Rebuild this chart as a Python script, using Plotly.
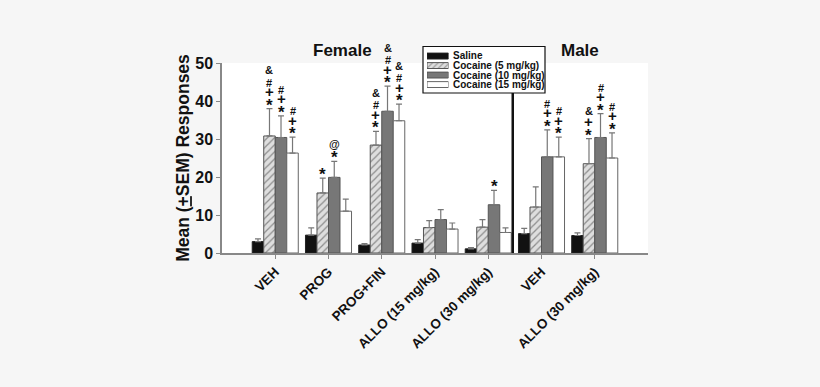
import plotly.graph_objects as go

categories = ["VEH", "PROG", "PROG+FIN", "ALLO (15 mg/kg)", "ALLO (30 mg/kg)", "VEH", "ALLO (30 mg/kg)"]
series_names = ["Saline", "Cocaine (5 mg/kg)", "Cocaine (10 mg/kg)", "Cocaine (15 mg/kg)"]

saline = [3.0, 4.7, 2.1, 2.6, 1.1, 5.1, 4.6]
saline_err = [0.7, 1.9, 0.4, 0.9, 0.3, 1.4, 0.7]
coc5 = [30.8, 15.8, 28.4, 6.7, 6.8, 12.1, 23.5]
coc5_err = [7.2, 3.9, 3.6, 1.8, 2.0, 5.3, 6.6]
coc10 = [30.4, 19.9, 37.3, 8.8, 12.7, 25.3, 30.4]
coc10_err = [5.7, 4.2, 6.6, 2.6, 3.8, 7.1, 6.3]
coc15 = [26.3, 11.0, 34.8, 6.3, 5.4, 25.3, 25.0]
coc15_err = [4.2, 3.2, 4.4, 1.6, 1.2, 5.2, 6.6]

# significance symbols, listed bottom to top
saline_sig = ["", "", "", "", "", "", ""]
coc5_sig = ["*+#&", "*", "*+#&", "", "", "", "*+&"]
coc10_sig = ["*+#", "*@", "*+#&", "", "*", "*+#", "*+#"]
coc15_sig = ["*+#", "", "*+#&", "", "", "*+#", "*+#"]

y_ticks = [0, 10, 20, 30, 40, 50]

values = [saline, coc5, coc10, coc15]
errors = [saline_err, coc5_err, coc10_err, coc15_err]
sigs = [saline_sig, coc5_sig, coc10_sig, coc15_sig]

FONT = "Liberation Sans, Arial, sans-serif"
W, H = 820, 387
ML, MR, MT, MB = 222, 172, 40, 134
plot_h = H - MT - MB
main_top = (253 - 63) / plot_h

def py2paper(py):
    return (253 - py) / plot_h

def px2paper(px):
    return (px - ML) / (W - ML - MR)

bargap = 0.135
nser = len(values)
bw = (1 - bargap) / nser
xs = list(range(len(categories)))

fills = ["#111111", "#dedede", "#777777", "#ffffff"]
patterns = [None, dict(shape="/", fgcolor="#3a3a3a", bgcolor="#dedede", size=5, solidity=0.25), None, None]
lines = ["#222222", "#555555", "#555555", "#666666"]

fig = go.Figure()
for j in range(nser):
    marker = dict(color=fills[j], line=dict(color=lines[j], width=1))
    if patterns[j]:
        marker["pattern"] = patterns[j]
    fig.add_trace(go.Bar(
        x=xs, y=values[j], name=series_names[j], marker=marker,
        error_y=dict(type="data", array=errors[j], arrayminus=[0] * len(xs), symmetric=False,
                     color="#777777", thickness=1.2, width=3),
        showlegend=False, xaxis="x", yaxis="y",
    ))

sym_size = {"*": 17, "+": 15, "#": 11, "&": 11, "@": 11}
sym_base = {"*": -8, "+": -4, "#": -3, "&": -1, "@": -1}
sym_step = 10.5
annotations = []
for j in range(nser):
    for i in xs:
        s = sigs[j][i]
        if not s:
            continue
        xpos = i + (j - (nser - 1) / 2) * bw
        top = values[j][i] + errors[j][i]
        for k, ch in enumerate(s):
            annotations.append(dict(
                x=xpos, y=top, xref="x", yref="y", text="<b>%s</b>" % ch,
                showarrow=False, yanchor="bottom", xanchor="center",
                yshift=sym_base[ch] + k * sym_step,
                font=dict(family=FONT, size=sym_size[ch], color="#111111"),
            ))

# titles
annotations.append(dict(x=px2paper(342), y=py2paper(50), xref="paper", yref="paper", text="<b>Female</b>",
                        showarrow=False, xanchor="center", yanchor="middle",
                        font=dict(family=FONT, size=17, color="#111111")))
annotations.append(dict(x=px2paper(580), y=py2paper(51), xref="paper", yref="paper", text="<b>Male</b>",
                        showarrow=False, xanchor="center", yanchor="middle",
                        font=dict(family=FONT, size=17, color="#111111")))

# legend (inset axis with swatches)
leg_rows = [56, 65.6, 75.2, 84.6]
for j, name in enumerate(series_names):
    annotations.append(dict(x=px2paper(451), y=py2paper(leg_rows[j]), xref="paper", yref="paper",
                            text="<b>%s</b>" % name, showarrow=False, xanchor="left", yanchor="middle",
                            font=dict(family=FONT, size=10, color="#111111")))
for j in range(nser):
    marker = dict(color=fills[j], line=dict(color=lines[j], width=1))
    if patterns[j]:
        marker["pattern"] = dict(patterns[j], size=4)
    fig.add_trace(go.Bar(
        y=[nser - 1 - j], x=[1], orientation="h", marker=marker, width=0.62,
        xaxis="x2", yaxis="y2", showlegend=False, hoverinfo="skip",
    ))

shapes = [
    dict(type="rect", xref="paper", yref="paper", x0=0, x1=1, y0=0, y1=main_top,
         fillcolor="#ffffff", line=dict(width=0), layer="below"),
    dict(type="rect", xref="paper", yref="paper", x0=px2paper(423), x1=px2paper(545),
         y0=py2paper(93), y1=py2paper(46.5), line=dict(color="#111111", width=1.2), fillcolor="#ffffff", layer="below"),
    dict(type="line", xref="x", yref="paper", x0=4.46, x1=4.46, y0=0, y1=py2paper(93),
         line=dict(color="#111111", width=2.5)),
]

fig.update_layout(
    width=W, height=H,
    margin=dict(l=ML, r=MR, t=MT, b=MB, autoexpand=False),
    paper_bgcolor="#f6f6f6", plot_bgcolor="rgba(0,0,0,0)",
    barmode="group", bargap=bargap, bargroupgap=0,
    font=dict(family=FONT, color="#111111"),
    xaxis=dict(range=[-1, 7], tickvals=xs, ticktext=["<b>%s</b>" % c for c in categories],
               tickangle=-45, tickfont=dict(size=13.5, family=FONT, color="#111111"),
               showline=True, linecolor="#888888", linewidth=1.5, ticks="outside", ticklen=4,
               tickcolor="#888888", showgrid=False, zeroline=False, domain=[0, 1], automargin=False),
    yaxis=dict(range=[0, 50], tickvals=y_ticks, ticktext=["<b>%d</b>" % v for v in y_ticks],
               tickfont=dict(size=16, family=FONT, color="#111111"),
               showline=True, linecolor="#888888", linewidth=1.5, ticks="outside", ticklen=4,
               tickcolor="#888888", showgrid=False, zeroline=False, domain=[0, main_top], automargin=False,
               title=dict(text="<b>Mean (<u>+</u>SEM) Responses</b>", font=dict(size=17.5, family=FONT, color="#111111"),
                          standoff=1)),
    xaxis2=dict(domain=[px2paper(427), px2paper(448.5)], range=[0, 1], anchor="y2", visible=False, fixedrange=True),
    yaxis2=dict(domain=[py2paper(89.3), py2paper(51.3)], range=[-0.5, nser - 0.5], anchor="x2", visible=False, fixedrange=True),
    annotations=annotations,
    shapes=shapes,
)

fig.write_html("out.html", config={"displayModeBar": False},
               post_script="document.body.style.margin='0';document.body.style.background='#f6f6f6';")
